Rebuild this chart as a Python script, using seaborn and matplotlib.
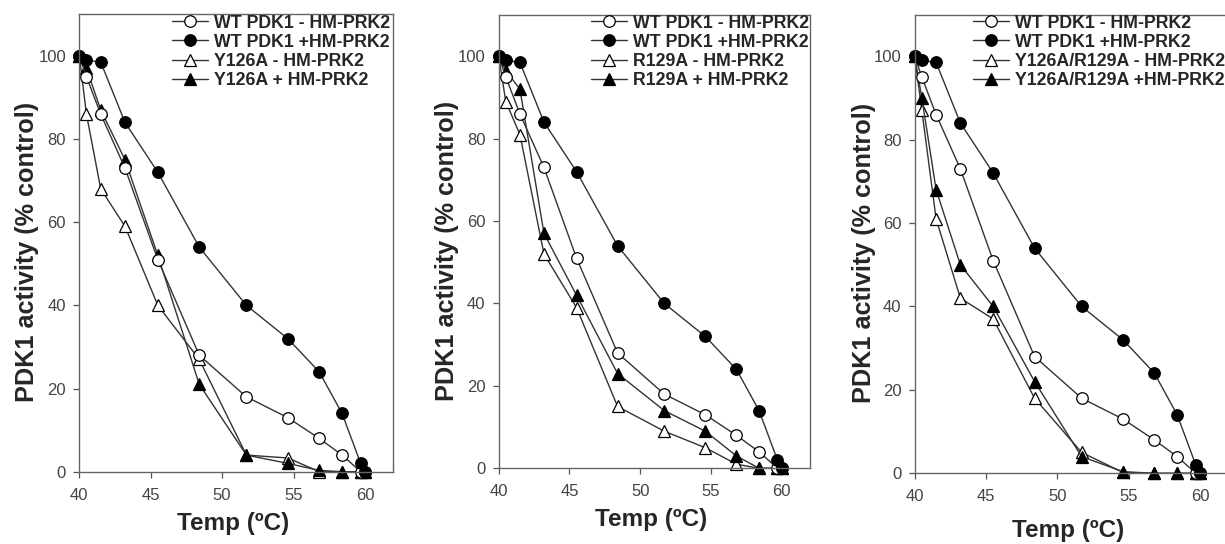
import pandas as pd
import seaborn as sns
import matplotlib.pyplot as plt
from matplotlib.lines import Line2D

# Temperaturas (ºC) comuns a todas as curvas
temps = [40.0, 40.5, 41.5, 43.2, 45.5, 48.4, 51.7, 54.6, 56.8, 58.4, 59.7, 60.0]

# Curvas do tipo selvagem (iguais nos tres paineis)
wt_menos = [100, 95, 86, 73, 51, 28, 18, 13, 8, 4, 0, 0]
wt_mais = [100, 99, 98.5, 84, 72, 54, 40, 32, 24, 14, 2, 0]

# Mutantes
y126a_menos = [100, 86, 68, 59, 40, 27, 4, 3.3, 0, 0, 0, 0]
y126a_mais = [100, 97, 87, 75, 52, 21, 4, 2, 0.3, 0, 0, 0]
r129a_menos = [100, 89, 81, 52, 39, 15, 9, 5, 1, 0, 0, 0]
r129a_mais = [100, 96.5, 92, 57, 42, 23, 14, 9, 3, 0, 0, 0]
duplo_menos = [100, 87, 61, 42, 37, 18, 5, 0.2, 0, 0, 0, 0]
duplo_mais = [100, 90, 68, 50, 40, 22, 4, 0.4, 0, 0, 0, 0]

rotulos_wt = ['WT PDK1 - HM-PRK2', 'WT PDK1 +HM-PRK2']
rotulos_mut = [['Y126A - HM-PRK2', 'Y126A + HM-PRK2'],
               ['R129A - HM-PRK2', 'R129A + HM-PRK2'],
               ['Y126A/R129A - HM-PRK2', 'Y126A/R129A +HM-PRK2']]
mutantes = [(y126a_menos, y126a_mais), (r129a_menos, r129a_mais), (duplo_menos, duplo_mais)]

sns.set_style('ticks')
plt.rcParams['font.family'] = ['Liberation Sans', 'DejaVu Sans']

W, H = 1225, 544
fig = plt.figure(figsize=(W / 100, H / 100), dpi=100)

# caixas dos eixos em pixels: esquerda, direita, topo, base
caixas = [(79.3, 393.5, 14.3, 471.7), (498.7, 810, 15, 468.3), (914.7, 1228.6, 14.5, 473.3)]
# posicao dos rotulos (fração dos eixos)
ylab_x = [-0.128, -0.1275, -0.124]
xlab_y = [-0.089, -0.088, -0.100]
# legenda: canto superior esquerdo em pixels
leg_pos = [(172, 14.5), (591, 14.5), (973, 14.5)]

linha = '#333333'
estilos = [dict(marker='^', markerfacecolor='white'),
           dict(marker='^', markerfacecolor='black'),
           dict(marker='o', markerfacecolor='white'),
           dict(marker='o', markerfacecolor='black')]

for i, (l, r, t, b) in enumerate(caixas):
    ax = fig.add_axes([l / W, 1 - b / H, (r - l) / W, (b - t) / H])
    series = [mutantes[i][0], mutantes[i][1], wt_menos, wt_mais]
    for vals, est in zip(series, estilos):
        df = pd.DataFrame({'Temp': temps, 'Atividade': vals})
        sns.lineplot(data=df, x='Temp', y='Atividade', ax=ax, color=linha, lw=1.0,
                     markersize=8.3, markeredgecolor='black', markeredgewidth=0.9,
                     clip_on=False, **est)
    ax.set_xlim(40, 62)
    ax.set_ylim(0, 110)
    ax.set_xticks([40, 45, 50, 55, 60])
    ax.set_yticks([0, 20, 40, 60, 80, 100])
    for s in ax.spines.values():
        s.set_color('#666666')
        s.set_linewidth(1.0)
    ax.tick_params(axis='both', direction='out', length=4.5, width=0.9, color='#555555',
                   labelsize=12, labelcolor='#444444')
    ax.tick_params(axis='x', pad=7)
    ax.tick_params(axis='y', pad=5)
    ax.set_xlabel('Temp (ºC)', fontsize=17.5, fontweight='bold')
    ax.set_ylabel('PDK1 activity (% control)', fontsize=18.2, fontweight='bold')
    ax.yaxis.set_label_coords(ylab_x[i], 0.48)
    ax.xaxis.set_label_coords(0.49, xlab_y[i])

    handles = [Line2D([], [], color=linha, lw=1.0, markersize=8.3, markeredgecolor='black',
                      markeredgewidth=0.9, **estilos[k]) for k in (2, 3, 0, 1)]
    labels = rotulos_wt + rotulos_mut[i]
    lx, ly = leg_pos[i]
    ax.legend(handles, labels, loc='upper left', bbox_to_anchor=(lx / W, 1 - ly / H),
              bbox_transform=fig.transFigure, frameon=False, borderpad=0, borderaxespad=0,
              handlelength=2.0, handletextpad=0.35, labelspacing=0.12,
              prop={'weight': 'bold', 'size': 12.8, 'family': 'Liberation Sans'})

plt.savefig('out.png', dpi=100)
